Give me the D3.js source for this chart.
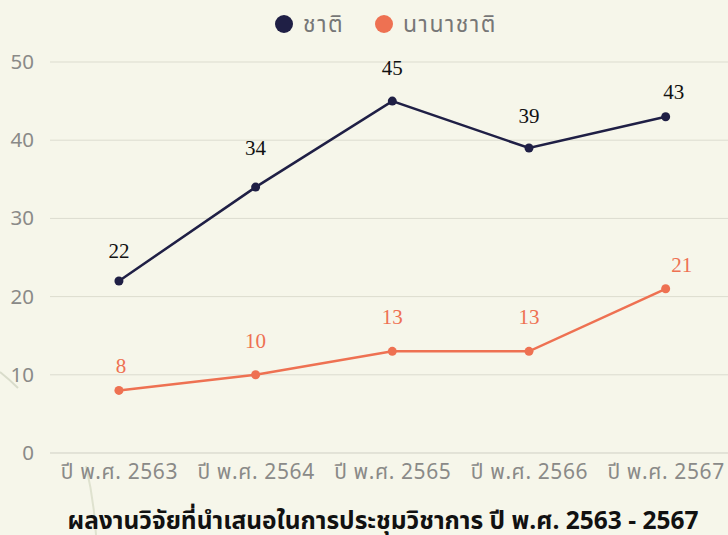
<!DOCTYPE html>
<html>
<head>
<meta charset="utf-8">
<script src="https://cdn.jsdelivr.net/npm/d3@7"></script>
<style>
  body { margin: 0; background: #f6f6ea; }
  svg { display: block; }
</style>
</head>
<body>
<div id="chart"></div>
<script>
// Data
let years = ["ปี พ.ศ. 2563", "ปี พ.ศ. 2564", "ปี พ.ศ. 2565", "ปี พ.ศ. 2566", "ปี พ.ศ. 2567"];
let national = [22, 34, 45, 39, 43];
let international = [8, 10, 13, 13, 21];
let seriesNames = ["ชาติ", "นานาชาติ"];
let yTicks = [0, 10, 20, 30, 40, 50];
let title = "ผลงานวิจัยที่นำเสนอในการประชุมวิชาการ ปี พ.ศ. 2563 - 2567";

let svgWidth = 728;
let svgHeight = 535;

let colors = ["#1f1f45", "#ee7152"];
let sans = "'Noto Sans Thai', 'Noto Sans', 'DejaVu Sans', sans-serif";
let serif = "'Liberation Serif', 'DejaVu Serif', serif";

// label nudges (px above point, px right)
let labelLift = [[30, 39, 33, 32, 25], [24, 34, 34, 34, 24]];
let labelShift = [[0, 0, 0, 0, 8], [2, 0, 0, 0, 16]];

let svg = d3.select("#chart")
    .append("svg")
    .attr("width", svgWidth)
    .attr("height", svgHeight);

svg.append("rect")
    .attr("width", svgWidth)
    .attr("height", svgHeight)
    .attr("fill", "#f6f6ea");

// faint decoration lines bottom-left
svg.append("path")
    .attr("d", "M0,372 Q10,380 18,388")
    .attr("stroke", "#d9dccb").attr("stroke-width", 2).attr("fill", "none");
svg.append("path")
    .attr("d", "M86,466 Q94,500 96,535")
    .attr("stroke", "#dfe2cf").attr("stroke-width", 2).attr("fill", "none");

// Scales
let x = d3.scalePoint()
    .domain(years)
    .range([50.6, 734])
    .padding(0.5);

let y = d3.scaleLinear()
    .domain([0, 50])
    .range([453, 62]);

// Grid
svg.append("g")
    .selectAll("line")
    .data(yTicks)
    .join("line")
    .attr("x1", 50)
    .attr("x2", svgWidth)
    .attr("y1", d => y(d))
    .attr("y2", d => y(d))
    .attr("stroke", d => d === 0 ? "#cfcfc4" : "#dcdccf")
    .attr("stroke-width", 1);

// Y axis
let leftAxis = d3.axisLeft(y).tickValues(yTicks).tickSize(0).tickPadding(0);
let yAxisG = svg.append("g")
    .attr("transform", "translate(34,0)")
    .call(leftAxis);
yAxisG.select(".domain").remove();
yAxisG.selectAll("text")
    .attr("fill", "#8a8a88")
    .attr("font-size", 20.5)
    .attr("font-family", sans);

// X axis
let bottomAxis = d3.axisBottom(x).tickSize(0).tickPadding(0);
let xAxisG = svg.append("g")
    .attr("transform", "translate(0,464)")
    .call(bottomAxis);
xAxisG.select(".domain").remove();
xAxisG.selectAll("text")
    .attr("fill", "#8a8a88")
    .attr("font-size", 21)
    .attr("letter-spacing", 0.6)
    .attr("font-family", sans);

// Lines
let series = [national, international];
let line = d3.line()
    .x((d, i) => x(years[i]))
    .y(d => y(d));

series.forEach(function(values, s) {
    svg.append("path")
        .datum(values)
        .attr("d", line)
        .attr("fill", "none")
        .attr("stroke", colors[s])
        .attr("stroke-width", 2.5);

    svg.append("g")
        .selectAll("circle")
        .data(values)
        .join("circle")
        .attr("cx", (d, i) => x(years[i]))
        .attr("cy", d => y(d))
        .attr("r", 4.5)
        .attr("fill", colors[s]);

    svg.append("g")
        .selectAll("text")
        .data(values)
        .join("text")
        .attr("x", (d, i) => x(years[i]) + labelShift[s][i])
        .attr("y", (d, i) => y(d) - labelLift[s][i] + 7)
        .attr("text-anchor", "middle")
        .attr("font-family", serif)
        .attr("font-size", 21)
        .attr("fill", s === 0 ? "#111111" : colors[1])
        .text(d => d);
});

// Legend
let legendX = [284, 384];
seriesNames.forEach(function(name, s) {
    svg.append("circle")
        .attr("cx", legendX[s])
        .attr("cy", 24)
        .attr("r", 9)
        .attr("fill", colors[s]);
    svg.append("text")
        .attr("x", legendX[s] + 19)
        .attr("y", 32)
        .attr("font-family", sans)
        .attr("font-size", 23)
        .attr("letter-spacing", 1.5)
        .attr("fill", "#777777")
        .text(name);
});

// Title
svg.append("text")
    .attr("x", 383)
    .attr("y", 529)
    .attr("text-anchor", "middle")
    .attr("font-family", sans)
    .attr("font-weight", "bold")
    .attr("font-size", 24.5)
    .attr("fill", "#111111")
    .text(title);
</script>
</body>
</html>
